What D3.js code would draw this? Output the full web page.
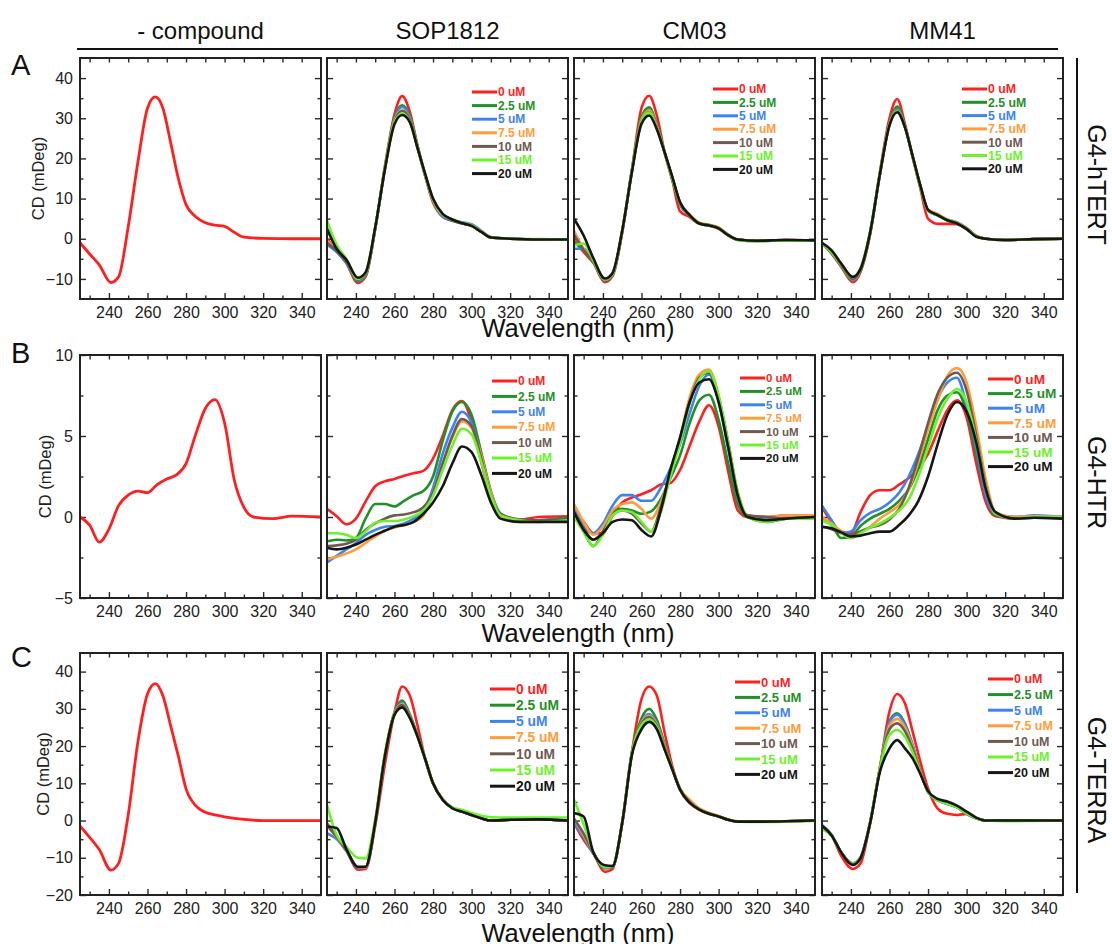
<!DOCTYPE html>
<html>
<head>
<meta charset="utf-8">
<script src="https://cdn.jsdelivr.net/npm/d3@7"></script>
<style>
body { margin: 0; background: #fff; }
svg text { font-family: Arial, "Liberation Sans", sans-serif; }
</style>
</head>
<body>
<svg id="chart" width="1112" height="944"></svg>
<script>
// wavelength grids (nm)
var wlAC = [225, 230, 235, 241, 245, 250, 255, 260, 264, 268, 272, 276, 280, 285, 290, 295, 300, 305, 310, 320, 335, 350];
var wlB = [225, 230, 235, 240, 245, 250, 255, 260, 265, 270, 275, 280, 285, 290, 295, 300, 305, 310, 315, 325, 335, 350];

var compounds = ['- compound', 'SOP1812', 'CM03', 'MM41'];
var sequences = ['G4-hTERT', 'G4-HTR', 'G4-TERRA'];
var rowLetters = ['A', 'B', 'C'];
var concLabels = ['0 uM', '2.5 uM', '5 uM', '7.5 uM', '10 uM', '15 uM', '20 uM'];
var concColors = ['#ff1f1f', '#1f9128', '#3d84f2', '#ff9d3b', '#6e5a52', '#6cf22a', '#161616'];
var xTicks = [240, 260, 280, 300, 320, 340];
var xMinor = [230, 250, 270, 290, 310, 330];

// G4-hTERT (row A), CD in mDeg
var hTERT_none = [-1, -3.8, -6.5, -10.9, -9.5, 3, 19, 32.5, 35.3, 32.5, 24, 15, 8.5, 5.5, 4, 3.4, 3.1, 1.6, 0.4, 0.1, 0, 0];
var hTERT_SOP1812 = [
    [0, -3, -6, -11, -9.5, 2.5, 18, 31, 35.5, 31.5, 23, 15.5, 9, 5.5, 4.5, 3.8, 3.2, 1.8, 0.3, 0, -0.2, -0.2],
    [-1, -3, -6, -10.6, -9.2, 2.5, 17.5, 30, 33.2, 30.5, 23, 15.8, 9.5, 5.8, 4.5, 3.8, 3.3, 1.8, 0.3, 0, -0.2, -0.2],
    [-1.5, -3.3, -6, -10.4, -9, 2.5, 17.5, 29.8, 32.8, 30.2, 22.8, 15.5, 9.5, 5.5, 4.6, 4.1, 3.6, 2, 0.4, 0, -0.2, -0.2],
    [-0.5, -2.8, -5.8, -10.2, -8.9, 2.6, 17.5, 29.5, 32, 29.8, 22.6, 15.6, 9.6, 5.9, 4.8, 4, 3.4, 1.9, 0.4, 0, -0.2, -0.2],
    [-1, -3, -5.8, -10.2, -8.8, 2.6, 17.3, 29.2, 31.8, 29.6, 22.6, 15.8, 9.8, 6, 4.7, 3.9, 3.3, 1.8, 0.3, 0, -0.2, -0.2],
    [4.5, -1.5, -5, -10, -8.5, 2.8, 17.5, 29, 31.2, 29.2, 22.5, 15.8, 9.8, 6, 4.8, 4, 3.3, 1.8, 0.3, 0, -0.1, -0.2],
    [2.5, -2.5, -5.2, -9.7, -8.4, 2.8, 17.2, 28.5, 30.8, 29, 22.5, 16, 10, 6.2, 4.8, 3.9, 3.2, 1.7, 0.3, 0, -0.2, -0.2]
];
var hTERT_CM03 = [
    [-0.4, -3.3, -6, -10.8, -9.3, 1.5, 17, 32.5, 35.6, 30.6, 21.5, 14.5, 6.8, 5.4, 3.7, 3.3, 2.5, 0.8, -0.2, -0.5, -0.3, -0.5],
    [-1, -2.8, -5.8, -10.4, -9, 1.8, 17, 30.3, 32.7, 28.3, 21.5, 14.8, 8.5, 5.8, 3.8, 3.3, 2.6, 0.9, -0.3, -0.6, -0.4, -0.5],
    [-2.5, -2.5, -5.6, -10.3, -8.9, 1.8, 16.8, 29.8, 32, 28, 21.5, 15, 8.8, 5.8, 3.9, 3.4, 2.7, 1, -0.2, -0.5, -0.3, -0.5],
    [2, -2.5, -5.5, -10.2, -8.8, 1.9, 16.8, 29.6, 31.9, 27.9, 21.6, 15.2, 9, 6, 4, 3.5, 2.8, 1, -0.2, -0.5, -0.3, -0.4],
    [1, -2.8, -5.6, -10.1, -8.7, 1.9, 16.7, 29.3, 31.5, 27.6, 21.5, 15.2, 9, 5.9, 3.9, 3.4, 2.7, 0.9, -0.2, -0.5, -0.3, -0.4],
    [-1.7, -1.2, -5.4, -10.1, -8.7, 2, 16.7, 29.2, 31.4, 27.5, 21.4, 15, 8.9, 5.8, 3.8, 3.3, 2.6, 0.9, -0.3, -0.6, -0.4, -0.5],
    [5, 0.8, -4.8, -9.9, -8.5, 2, 16.5, 28.6, 30.7, 27.2, 21.5, 15.4, 9.1, 5.9, 3.8, 3.3, 2.6, 0.9, -0.2, -0.5, -0.3, -0.4]
];
var hTERT_MM41 = [
    [-1.2, -3.7, -7, -10.8, -8.2, 1.2, 16.5, 30, 34.8, 28.6, 20.3, 12.5, 5, 3.7, 3.7, 3.6, 2.4, 0.6, 0, -0.3, -0.1, 0],
    [-1.2, -3.6, -6.8, -10.4, -7.9, 1.4, 16, 28.8, 32.9, 28, 20.5, 13, 7, 5.8, 4.6, 3.9, 2.6, 0.7, 0, -0.3, -0.1, 0],
    [-1.2, -3.5, -6.7, -10.3, -7.8, 1.5, 16, 28.6, 32.3, 27.9, 20.5, 13.1, 7.1, 5.9, 4.8, 4.1, 2.7, 0.7, 0, -0.3, -0.1, 0],
    [-1.2, -3.4, -6.6, -10.1, -7.7, 1.5, 16, 28.5, 32, 27.9, 20.6, 13.2, 7.2, 6.2, 4.8, 4, 2.6, 0.7, 0, -0.3, -0.1, 0],
    [-1.1, -3.2, -6.5, -10, -7.6, 1.6, 16, 28.4, 31.9, 27.8, 20.6, 13.2, 7.1, 5.9, 4.6, 3.9, 2.5, 0.6, 0, -0.3, -0.1, 0],
    [-1.2, -3.3, -6.4, -9.6, -7.2, 2, 16.3, 28.5, 31.7, 27.8, 20.5, 13, 7, 5.8, 4.6, 3.9, 2.5, 0.6, 0, -0.3, -0.1, 0],
    [-1, -2.9, -6.2, -9.5, -7.5, 1.7, 16, 28.2, 31.5, 27.8, 20.6, 13.3, 7.2, 5.9, 4.6, 3.8, 2.4, 0.5, 0, -0.3, -0.1, 0]
];

// G4-HTR (row B)
var HTR_none = [0, -0.5, -1.55, -0.75, 0.7, 1.35, 1.6, 1.5, 2.0, 2.35, 2.6, 3.3, 5.1, 6.7, 7.25, 5.8, 2.3, 0.6, 0.0, -0.1, 0.05, 0];
var HTR_SOP1812 = [
    [0.5, 0.05, -0.45, -0.1, 0.95, 1.9, 2.2, 2.35, 2.55, 2.7, 2.85, 3.6, 5.0, 6.6, 7.15, 5.9, 3.4, 1.2, 0.1, -0.15, 0, 0.05],
    [-1.5, -1.4, -1.45, -1.3, -0.1, 0.8, 0.8, 0.65, 1.0, 1.35, 1.6, 2.5, 4.7, 6.5, 7.1, 6.3, 4.0, 1.6, 0.2, -0.2, -0.2, 0],
    [-2.8, -2.4, -2.0, -1.6, -1.1, -0.8, -0.6, -0.55, -0.4, -0.1, 0.35, 1.8, 3.9, 5.5, 6.5, 5.8, 3.7, 1.5, 0.2, -0.2, -0.2, -0.1],
    [-2.6, -2.45, -2.25, -2.0, -1.6, -1.2, -0.85, -0.65, -0.5, -0.3, 0.1, 1.5, 3.3, 4.9, 5.9, 5.5, 3.8, 1.5, 0.1, -0.3, -0.3, -0.2],
    [-1.8, -1.75, -1.65, -1.4, -0.8, -0.4, -0.1, 0.1, 0.15, 0.3, 0.6, 1.5, 3.3, 5.0, 6.05, 5.6, 3.6, 1.3, 0.2, -0.15, -0.2, -0.1],
    [-1.0, -1.0, -1.1, -1.3, -0.9, -0.35, -0.25, -0.25, -0.15, 0.05, 0.4, 1.3, 2.9, 4.4, 5.45, 5.1, 3.4, 1.3, 0.1, -0.2, -0.3, -0.2],
    [-1.9, -2.0, -1.9, -1.7, -1.4, -1.1, -0.85, -0.6, -0.5, -0.3, 0.2, 0.9, 1.9, 3.3, 4.35, 4.0, 2.6, 0.9, -0.1, -0.3, -0.3, -0.3]
];
var HTR_CM03 = [
    [0.4, -0.3, -1.0, -1.0, 0.1, 0.9, 1.2, 1.4, 1.65, 2.0, 2.1, 2.9, 4.4, 5.9, 6.9, 5.6, 2.8, 0.4, 0, 0, 0.1, 0.1],
    [0.2, -0.9, -1.8, -0.9, 0.3, 0.5, 0.4, 0.2, 0.35, 1.1, 2.4, 3.8, 5.8, 7.2, 7.55, 6.0, 3.3, 0.8, 0, -0.3, -0.1, 0],
    [0.6, -0.6, -1.0, -0.4, 0.7, 1.35, 1.35, 1.0, 1.0, 1.8, 3.0, 4.5, 6.4, 8.1, 8.8, 7.1, 4.2, 1.2, 0.1, -0.1, -0.1, -0.1],
    [0.8, -0.3, -1.1, -0.6, 0.4, 0.8, 0.9, 0.5, -0.1, 0.9, 2.7, 4.9, 7.4, 8.8, 9.1, 7.5, 4.4, 1.5, 0.1, 0, 0.1, 0.1],
    [0.3, -0.7, -1.4, -0.9, 0.1, 0.4, 0.2, -0.4, -0.9, 0.6, 2.8, 4.8, 7.1, 8.6, 8.9, 7.4, 4.6, 1.4, 0.1, 0, -0.1, 0],
    [0, -0.9, -1.8, -1.1, 0.1, 0.4, 0.3, -0.3, -0.9, 0.3, 2.5, 4.6, 7.0, 8.5, 9.0, 7.5, 4.6, 1.5, 0, -0.3, -0.1, -0.1],
    [0.3, -0.8, -1.4, -1.0, -0.3, -0.15, -0.2, -0.8, -1.2, 0.4, 2.9, 4.9, 7.1, 8.3, 8.5, 7.1, 4.3, 1.3, 0, -0.2, -0.1, 0]
];
var HTR_MM41 = [
    [0.6, -0.3, -0.9, -1.0, 0.3, 1.35, 1.65, 1.65, 2.0, 2.4, 3.0, 3.9, 5.3, 6.6, 7.2, 6.15, 3.3, 0.9, 0.05, -0.1, 0.05, 0],
    [-0.1, -0.5, -1.3, -1.2, -0.55, -0.1, 0.2, 0.5, 1.0, 1.7, 3.0, 4.8, 6.6, 7.5, 7.7, 6.5, 3.9, 1.3, 0.1, 0, 0, 0],
    [0.7, -0.2, -1.0, -0.9, -0.2, 0.25, 0.5, 0.9, 1.5, 2.5, 3.9, 5.6, 7.3, 8.3, 8.6, 6.9, 4.3, 1.3, 0.2, 0, 0.1, 0],
    [0, -0.4, -0.9, -1.3, -0.9, -0.6, -0.1, 0.3, 0.75, 1.7, 3.4, 5.4, 7.2, 8.7, 9.2, 8.3, 5.6, 2.3, 0.3, 0, 0.05, 0],
    [-0.6, -0.75, -1.0, -1.1, -0.9, -0.65, -0.5, -0.15, 0.5, 1.8, 3.7, 5.8, 7.6, 8.6, 8.9, 7.8, 5.0, 1.9, 0.2, -0.1, -0.05, -0.1],
    [-0.2, -0.5, -1.0, -1.3, -1.0, -0.65, -0.4, -0.05, 0.4, 1.1, 2.5, 4.3, 6.1, 7.3, 7.9, 7.1, 4.7, 1.8, 0.2, -0.1, 0, 0],
    [-0.6, -0.7, -0.95, -1.2, -1.15, -1.0, -0.9, -0.9, -0.5, 0.1, 1.0, 2.5, 4.5, 6.3, 7.1, 6.5, 4.6, 1.7, 0.3, -0.1, -0.05, -0.1]
];

// G4-TERRA (row C)
var TERRA_none = [-1.5, -4.5, -7.8, -13.3, -11.5, 1.5, 21, 34, 36.8, 33.5, 25.5, 17.3, 8.5, 4, 2.2, 1.5, 1, 0.6, 0.3, 0, 0, 0];
var TERRA_SOP1812 = [
    [-0.7, -4.3, -7.9, -13.2, -13, -1.5, 15, 29, 36, 33.5, 25.4, 16.4, 10, 5.6, 3.3, 2.4, 1.5, 0.6, 0, 0.2, 0.3, 0],
    [-1, -4.3, -7.9, -12.6, -12.6, -0.7, 17.3, 29, 32.2, 28.5, 22.8, 16.4, 10, 5.6, 3.3, 2.4, 1.5, 0.6, 0, 0.2, 0.3, 0],
    [-3.4, -5, -8.2, -12.8, -12.7, -0.7, 17.3, 29, 31.6, 28.2, 22.7, 16.4, 10, 5.8, 3.5, 2.5, 1.5, 0.6, 0, 0.2, 0.3, 0],
    [-1.5, -4.5, -8, -12.6, -12.6, -0.6, 17.3, 28.8, 31.3, 28, 22.7, 16.4, 10, 5.7, 3.4, 2.4, 1.5, 0.6, 0, 0.2, 0.3, 0],
    [-1.2, -4.4, -7.9, -12.6, -12.5, -0.6, 17.3, 28.6, 31, 27.9, 22.6, 16.4, 10, 5.6, 3.3, 2.4, 1.5, 0.6, 0, 0.2, 0.3, 0],
    [4.2, -3.9, -7, -10, -10.2, 0.3, 18, 28.6, 30.4, 27.6, 22.5, 16.4, 10, 5.8, 3.5, 2.9, 2, 1.3, 0.9, 0.8, 0.8, 0.8],
    [-1.6, -2, -7.6, -12.4, -12.4, -0.5, 17.3, 28.4, 30.4, 27.5, 22.5, 16.4, 10, 5.6, 3.3, 2.4, 1.5, 0.6, 0, 0.2, 0.3, 0]
];
var TERRA_CM03 = [
    [-0.7, -5.2, -8.8, -13.8, -13, -0.7, 18.2, 32.6, 36, 33.5, 23.6, 14.6, 8.3, 4.7, 2.9, 1.8, 1.1, 0.2, -0.3, -0.3, -0.2, 0],
    [0, -4, -8.8, -12.8, -12.4, -0.7, 18.2, 27.5, 30, 27, 20.5, 14, 8.5, 5, 3, 1.9, 1.1, 0.2, -0.3, -0.3, -0.2, 0],
    [-0.7, -4.5, -8.8, -12.8, -12.4, -0.7, 18, 26.5, 28.6, 26, 20, 13.8, 8.4, 5, 3, 1.9, 1.1, 0.2, -0.3, -0.3, -0.2, 0],
    [0.5, -4, -8.5, -12.6, -12.3, -0.6, 18, 26.2, 28.1, 25.7, 20, 14, 8.6, 5.6, 3.3, 2.1, 1.3, 0.3, -0.2, -0.3, -0.2, 0],
    [0.5, -3.5, -8.6, -12.6, -12.3, -0.6, 18, 26, 27.8, 25.4, 19.6, 13.8, 8.4, 5, 3, 1.9, 1.1, 0.2, -0.3, -0.3, -0.2, 0],
    [5.6, -1, -8.4, -12.5, -12.2, -0.5, 18, 25.6, 27.2, 25, 19.3, 13.7, 8.3, 4.8, 2.9, 1.8, 1.1, 0.2, -0.3, -0.4, -0.3, -0.1],
    [2, 1.1, -8.5, -12, -12.2, -0.6, 17.5, 24.5, 26.5, 24.5, 19.1, 13.7, 8.3, 4.8, 2.9, 1.8, 1.1, 0.2, -0.3, -0.3, -0.2, 0]
];
var TERRA_MM41 = [
    [-1.4, -4, -9.5, -13, -11.5, -0.5, 14, 29.3, 34, 31.5, 23.9, 15.8, 8.6, 3.2, 1.8, 1.5, 1.8, 0.6, 0, 0, 0, 0],
    [-1.4, -4, -8.6, -11.7, -10, -0.5, 14, 26.6, 28.8, 26.1, 20.3, 13.1, 7.7, 5.4, 4.5, 3.6, 1.8, 0.6, 0, 0, 0, 0],
    [-1.2, -3.8, -8.5, -11.5, -9.8, -0.4, 14, 26.3, 28.4, 25.8, 20.2, 13.1, 7.7, 5.4, 4.5, 3.6, 1.8, 0.6, 0, 0, 0, 0],
    [-1.4, -4, -8.6, -11.7, -10, -0.5, 14, 25.5, 27.3, 25, 19.8, 13.1, 7.7, 5.5, 4.6, 3.7, 1.9, 0.6, 0, 0, 0, 0],
    [-1.4, -4, -8.6, -11.8, -10, -0.5, 13.8, 24.5, 26.1, 24, 19.2, 13, 7.7, 5.4, 4.5, 3.6, 1.9, 0.6, 0, 0, 0, 0],
    [-2.3, -4.2, -8.6, -11.7, -10, -0.4, 13.8, 23, 24.3, 22.5, 18.3, 12.8, 7.7, 5.4, 4.5, 3.6, 1.9, 0.6, 0, -0.2, -0.1, 0],
    [-1.4, -4, -8.6, -11.9, -10.1, -0.6, 13, 19.4, 21.6, 19.4, 16.7, 12.5, 7.9, 5.8, 5.1, 4, 2.4, 0.8, 0, 0, 0, 0]
];

// y axis settings per row
var yDomains = [[-15, 45], [-5, 10], [-20, 45]];
var yMajor = [[-10, 0, 10, 20, 30, 40], [-5, 0, 5, 10], [-20, -10, 0, 10, 20, 30, 40]];
var yMinor = [[-5, 5, 15, 25, 35], [-2.5, 2.5, 7.5], [-15, -5, 5, 15, 25, 35]];

// layout
var colX = [80, 327, 574, 822], panelW = 241;
var rowY = [58, 355, 653], rowH = [241, 243, 242];
// legend: [line start x, first row y, row step, font size] relative to panel
var legendPos = [
    [null, [145, 34, 13.6, 12], [139, 31, 13.4, 12], [140, 31, 13.3, 12.3]],
    [null, [165, 26, 15.4, 12], [166, 23, 13.4, 11.5], [166, 24, 14.6, 13.6]],
    [null, [163, 36, 16.2, 13.8], [161, 29, 15.4, 13], [166, 26, 15.6, 12.5]]
];
var cdLabelX = [44, 51, 49];
var wavelengthY = [337, 642, 942];
var letterY = [75, 363, 667];

var rows = [
    {wl: wlAC, panels: [[hTERT_none], hTERT_SOP1812, hTERT_CM03, hTERT_MM41]},
    {wl: wlB, panels: [[HTR_none], HTR_SOP1812, HTR_CM03, HTR_MM41]},
    {wl: wlAC, panels: [[TERRA_none], TERRA_SOP1812, TERRA_CM03, TERRA_MM41]}
];

var svg = d3.select('#chart');
var x = d3.scaleLinear().domain([225, 350]).range([0, panelW]);

function styleAxis(sel, fontSize) {
    sel.select('.domain').remove();
    sel.selectAll('line').attr('stroke', '#2a2a2a').attr('stroke-width', 1.4);
    sel.selectAll('text').attr('fill', '#222').style('font-size', fontSize + 'px');
}

rows.forEach(function (row, r) {
    var h = rowH[r];
    var y = d3.scaleLinear().domain(yDomains[r]).range([h, 0]);
    var line = d3.line()
        .x(function (d) { return x(d[0]); })
        .y(function (d) { return y(d[1]); })
        .curve(d3.curveMonotoneX);

    row.panels.forEach(function (series, c) {
        var g = svg.append('g')
            .attr('transform', 'translate(' + colX[c] + ',' + rowY[r] + ')');

        g.append('clipPath').attr('id', 'clip-' + r + '-' + c)
            .append('rect').attr('width', panelW).attr('height', h);

        // ticks, inward on all four sides
        g.append('g').attr('transform', 'translate(0,' + h + ')')
            .call(d3.axisBottom(x).tickValues(xTicks).tickSize(-6).tickPadding(8).tickFormat(d3.format('d')))
            .call(styleAxis, 16);
        g.append('g').attr('transform', 'translate(0,' + h + ')')
            .call(d3.axisBottom(x).tickValues(xMinor).tickSize(-3.5).tickFormat(''))
            .call(styleAxis, 16);
        g.append('g')
            .call(d3.axisTop(x).tickValues(xTicks.concat(xMinor)).tickSize(-4.5).tickFormat(''))
            .call(styleAxis, 16);

        var left = d3.axisLeft(y).tickValues(yMajor[r]).tickSize(-6).tickPadding(7);
        if (c > 0) left.tickFormat('');
        g.append('g').call(left).call(styleAxis, 16);
        g.append('g').call(d3.axisLeft(y).tickValues(yMinor[r]).tickSize(-3.5).tickFormat('')).call(styleAxis, 16);
        g.append('g').attr('transform', 'translate(' + panelW + ',0)')
            .call(d3.axisRight(y).tickValues(yMajor[r]).tickSize(-6).tickFormat(''))
            .call(styleAxis, 16);
        g.append('g').attr('transform', 'translate(' + panelW + ',0)')
            .call(d3.axisRight(y).tickValues(yMinor[r]).tickSize(-3.5).tickFormat(''))
            .call(styleAxis, 16);

        // curves
        var lines = g.append('g').attr('clip-path', 'url(#clip-' + r + '-' + c + ')');
        series.forEach(function (vals, i) {
            var pts = row.wl.map(function (w, k) { return [w, vals[k]]; });
            lines.append('path')
                .datum(pts)
                .attr('d', line)
                .attr('fill', 'none')
                .attr('stroke', concColors[i])
                .attr('stroke-width', c == 0 ? 2.8 : 2.6)
                .attr('stroke-linejoin', 'round');
        });

        // frame
        g.append('rect')
            .attr('width', panelW).attr('height', h)
            .attr('fill', 'none').attr('stroke', '#222').attr('stroke-width', 2);

        // legend
        var lp = legendPos[r][c];
        if (lp) {
            var leg = g.append('g');
            concLabels.forEach(function (lab, i) {
                var ly = lp[1] + i * lp[2];
                leg.append('line')
                    .attr('x1', lp[0]).attr('x2', lp[0] + 25)
                    .attr('y1', ly).attr('y2', ly)
                    .attr('stroke', concColors[i]).attr('stroke-width', 3);
                leg.append('text')
                    .attr('x', lp[0] + 26).attr('y', ly)
                    .attr('dy', '0.35em')
                    .attr('fill', concColors[i])
                    .style('font-size', lp[3] + 'px')
                    .style('font-weight', 'bold')
                    .text(lab);
            });
        }
    });

    // y axis title
    svg.append('text')
        .attr('transform', 'translate(' + cdLabelX[r] + ',' + (rowY[r] + h / 2) + ') rotate(-90)')
        .attr('text-anchor', 'middle')
        .attr('fill', '#222')
        .style('font-size', '16.5px')
        .text('CD (mDeg)');

    // x axis title
    svg.append('text')
        .attr('x', 578).attr('y', wavelengthY[r])
        .attr('text-anchor', 'middle')
        .attr('fill', '#111')
        .style('font-size', '25.5px')
        .text('Wavelength (nm)');

    // row letter
    svg.append('text')
        .attr('x', 11).attr('y', letterY[r])
        .attr('fill', '#111')
        .style('font-size', '29px')
        .text(rowLetters[r]);

    // sequence name on the right
    svg.append('text')
        .attr('transform', 'translate(1088,' + (rowY[r] + h / 2 + 6) + ') rotate(90)')
        .attr('text-anchor', 'middle')
        .attr('fill', '#111')
        .style('font-size', '25px')
        .text(sequences[r]);
});

// column headers
compounds.forEach(function (name, c) {
    svg.append('text')
        .attr('x', colX[c] + panelW / 2).attr('y', 39)
        .attr('text-anchor', 'middle')
        .attr('fill', '#111')
        .style('font-size', '24px')
        .text(name);
});
svg.append('line')
    .attr('x1', 77).attr('x2', 1058).attr('y1', 49).attr('y2', 49)
    .attr('stroke', '#111').attr('stroke-width', 2);
svg.append('line')
    .attr('x1', 1077).attr('x2', 1077).attr('y1', 58).attr('y2', 893)
    .attr('stroke', '#111').attr('stroke-width', 2);
</script>
</body>
</html>
